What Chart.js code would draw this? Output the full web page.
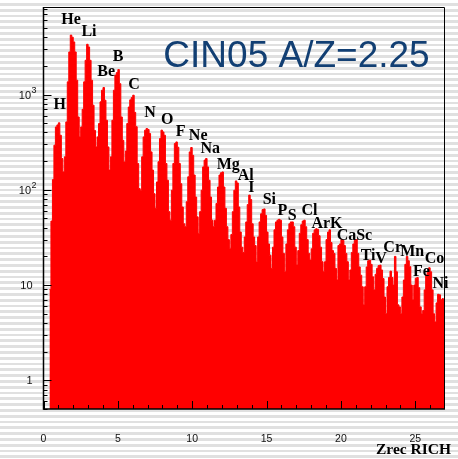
<!DOCTYPE html>
<html>
<head>
<meta charset="utf-8">
<script src="https://cdn.jsdelivr.net/npm/chart.js@4.4.1/dist/chart.umd.min.js"></script>
<style>
  html, body { margin: 0; padding: 0; }
  body {
    width: 458px; height: 459px; overflow: hidden;
    background: repeating-linear-gradient(to bottom, #ffffff 0px, #ffffff 3px, #e0e0e0 3px, #e0e0e0 5.8px);
  }
  #wrap { position: relative; width: 458px; height: 459px; }
</style>
</head>
<body>
<div id="wrap"><canvas id="zChart"></canvas></div>
<script>
// ── histogram: Zrec RICH, bins of 0.1 from 0 to 27 ─────────────
const xLow = 0;
const xHigh = 27;
const binWidth = 0.1;

// 10 bins per charge unit, one row per unit
const counts = [
  null, null, null, null, 9, 47, 128, 294, 457, 480,
  505, 374, 213, 154, 222, 516, 1360, 2800, 4210, 4000,
  3570, 2800, 1415, 582, 359, 457, 700, 1360, 2290, 3370,
  3160, 2290, 1415, 773, 420, 282, 359, 496, 838, 1110,
  1186, 872, 537, 282, 161, 222, 537, 1110, 1600, 1700,
  1830, 1300, 582, 331, 196, 255, 496, 740, 880, 930,
  984, 650, 460, 189, 103, 99, 222, 359, 423, 440,
  430, 390, 250, 161, 91, 64, 121, 197, 345, 423,
  405, 374, 189, 126, 59, 48, 99, 189, 306, 318,
  280, 189, 116, 66, 44, 41, 75, 137, 250, 278,
  230, 143, 84, 52, 35, 59, 99, 174, 205, 213,
  174, 126, 84, 48, 41, 48, 72, 107, 143, 151,
  154, 107, 64, 41, 30, 24, 34, 59, 99, 124,
  118, 66, 36, 25, 22, 32, 46, 70, 88, 79,
  44, 32, 26, 17.5, 32, 46, 56, 62, 63, 54,
  36, 27, 20.6, 15, 25, 38, 46, 48, 49, 48,
  32, 21.5, 13.8, 27, 38, 44, 46, 46, 41, 25,
  16.2, 23, 35, 43, 47, 48, 41, 30, 21.5, 18.3,
  24, 35, 38, 39, 38.5, 33, 25, 17.6, 13.8, 17.6,
  30, 36, 38, 28, 23, 21.5, 15, 11.3, 26, 27,
  30, 29.5, 26, 21.5, 17.6, 11.3, 14.4, 22, 27, 29.5,
  30, 21.5, 15.5, 12.7, 9.6, 6.2, 9.6, 15.5, 18, 18.3,
  16.5, 12.2, 8.9, 13, 15, 16, 16.2, 14.4, 11.7, 7.5,
  5.0, 9.6, 12, 14, 12, 10, 20, 13.8, 6.2, 5.9,
  5.0, 7.5, 11.3, 16.5, 20, 18, 15.6, 10, 7.0, 10,
  11.8, 12, 9.4, 5.9, 5.0, 5.4, 8.9, 12.7, 14, 15.2,
  13.8, 8.9, 5.0, 4.1, 6.5, 8.0, 7.9, 7.0, 7.2, 7.0
];

const yMin = 0.5;
const yMax = 8300;
const xTicks = [0, 5, 10, 15, 20, 25];
const yTicks = [1, 10, 100, 1000];
const yTickBase = ['1', '10', '10', '10'];
const yTickExp = ['', '', '2', '3'];

// element names, anchored in data units (Z, counts) at their baseline centre
const elemNames = ['H', 'He', 'Li', 'Be', 'B', 'C', 'N', 'O', 'F', 'Ne', 'Na', 'Mg', 'Al', 'I',
                   'Si', 'P', 'S', 'Cl', 'ArK', 'CaSc', 'Ti', 'V', 'Cr', 'Mn', 'Co', 'Fe', 'Ni'];
const elemZ = [1.09, 1.85, 3.06, 4.21, 5.02, 6.09, 7.17, 8.32, 9.23, 10.40, 11.21, 12.42, 13.60, 13.97,
               15.19, 16.06, 16.73, 17.88, 19.06, 20.91, 21.83, 22.69, 23.48, 24.79, 26.30, 25.42, 26.70];
const elemY = [713, 5470, 4090, 1556, 2253, 1156, 582, 489, 365, 332, 246, 167, 128, 95,
               71, 54, 48, 54, 40, 29.6, 18.4, 17, 22.5, 20, 17, 12.6, 9.3];

const titleText = 'CIN05 A/Z=2.25';
const axisTitle = 'Zrec RICH';

// step outline: left edge of each filled bin, plus the closing edge
const points = [];
counts.forEach(function (c, i) {
    if (c !== null) points.push({ x: xLow + i * binWidth, y: c });
});
points.push({ x: xHigh, y: counts[counts.length - 1] });

const sansFont = '"Liberation Sans", Arial, sans-serif';
const serifFont = '"Liberation Serif", "Times New Roman", serif';

// ── frame, inward ticks and annotations, ROOT style ───────────
const rootStyle = {
    id: 'rootStyle',
    afterDatasetsDraw(chart) {
        const ctx = chart.ctx;
        const a = chart.chartArea;
        const xs = chart.scales.x;
        const ys = chart.scales.y;

        ctx.save();
        ctx.strokeStyle = '#000';

        // frame
        ctx.lineWidth = 1;
        ctx.beginPath();
        ctx.moveTo(a.left, a.top + 0.5);
        ctx.lineTo(a.right - 0.5, a.top + 0.5);
        ctx.lineTo(a.right - 0.5, a.bottom);
        ctx.stroke();
        ctx.lineWidth = 1.5;
        ctx.beginPath();
        ctx.moveTo(a.left, a.top);
        ctx.lineTo(a.left, a.bottom);
        ctx.lineTo(a.right, a.bottom);
        ctx.stroke();

        // x ticks, one per unit, long at the labelled ones
        ctx.lineWidth = 1;
        ctx.beginPath();
        for (let z = xLow; z < xHigh; z++) {
            const px = Math.round(xs.getPixelForValue(z)) + 0.5;
            const len = (z % 5 === 0) ? 8 : 4;
            ctx.moveTo(px, a.bottom);
            ctx.lineTo(px, a.bottom - len);
        }
        // y ticks, 1..9 per decade
        for (let d = 0.1; d <= 1000; d *= 10) {
            for (let m = 1; m <= 9; m++) {
                const v = m * d;
                if (v < yMin || v > yMax) continue;
                const py = Math.round(ys.getPixelForValue(v)) + 0.5;
                const len = (m === 1) ? 8 : 4;
                ctx.moveTo(a.left, py);
                ctx.lineTo(a.left + len, py);
            }
        }
        ctx.stroke();

        // y tick labels with raised exponent
        ctx.fillStyle = '#111';
        ctx.textBaseline = 'middle';
        yTicks.forEach(function (v, i) {
            const py = ys.getPixelForValue(v) + 1;
            ctx.font = '11px ' + sansFont;
            if (yTickExp[i]) {
                ctx.textAlign = 'right';
                ctx.fillText(yTickBase[i], 31, py);
                ctx.textAlign = 'left';
                ctx.font = '9px ' + sansFont;
                ctx.fillText(yTickExp[i], 31.5, py - 5);
            } else {
                ctx.textAlign = 'right';
                ctx.fillText(yTickBase[i], 32.5, py);
            }
        });

        // element labels
        ctx.fillStyle = '#000';
        ctx.font = 'bold 16px ' + serifFont;
        ctx.textAlign = 'center';
        ctx.textBaseline = 'alphabetic';
        elemNames.forEach(function (name, i) {
            ctx.fillText(name, xs.getPixelForValue(elemZ[i]), ys.getPixelForValue(elemY[i]));
        });

        // title inside the frame
        ctx.fillStyle = '#123f73';
        ctx.font = '37px ' + sansFont;
        ctx.textAlign = 'center';
        ctx.fillText(titleText, 296.5, 66.5);

        // axis title, bottom right
        ctx.fillStyle = '#000';
        ctx.font = 'bold 15.5px ' + serifFont;
        ctx.textAlign = 'right';
        ctx.fillText(axisTitle, 451, 454);

        ctx.restore();
    }
};

new Chart(document.getElementById('zChart').getContext('2d'), {
    type: 'line',
    data: {
        datasets: [{
            data: points,
            stepped: 'before',
            fill: 'start',
            backgroundColor: '#ff0000',
            borderColor: '#ff0000',
            borderWidth: 1,
            pointRadius: 0,
            tension: 0,
        }],
    },
    options: {
        responsive: true,
        maintainAspectRatio: false,
        animation: false,
        devicePixelRatio: 1,
        layout: { padding: { top: 7, right: 13, left: 0, bottom: 0 } },
        plugins: {
            legend: { display: false },
            tooltip: { enabled: false },
        },
        scales: {
            x: {
                type: 'linear',
                min: xLow,
                max: xHigh,
                grid: { display: false, drawTicks: false },
                border: { display: false },
                afterBuildTicks: function (s) { s.ticks = xTicks.map(function (v) { return { value: v }; }); },
                afterFit: function (s) { s.height = 50; },
                ticks: {
                    autoSkip: false,
                    maxRotation: 0,
                    padding: 24,
                    color: '#111',
                    font: { family: sansFont, size: 10.5 },
                },
            },
            y: {
                type: 'logarithmic',
                min: yMin,
                max: yMax,
                grid: { display: false, drawTicks: false },
                border: { display: false },
                afterBuildTicks: function (s) { s.ticks = yTicks.map(function (v) { return { value: v }; }); },
                afterFit: function (s) { s.width = 43.5; },
                ticks: { display: false },
            },
        },
    },
    plugins: [rootStyle],
});
</script>
</body>
</html>
